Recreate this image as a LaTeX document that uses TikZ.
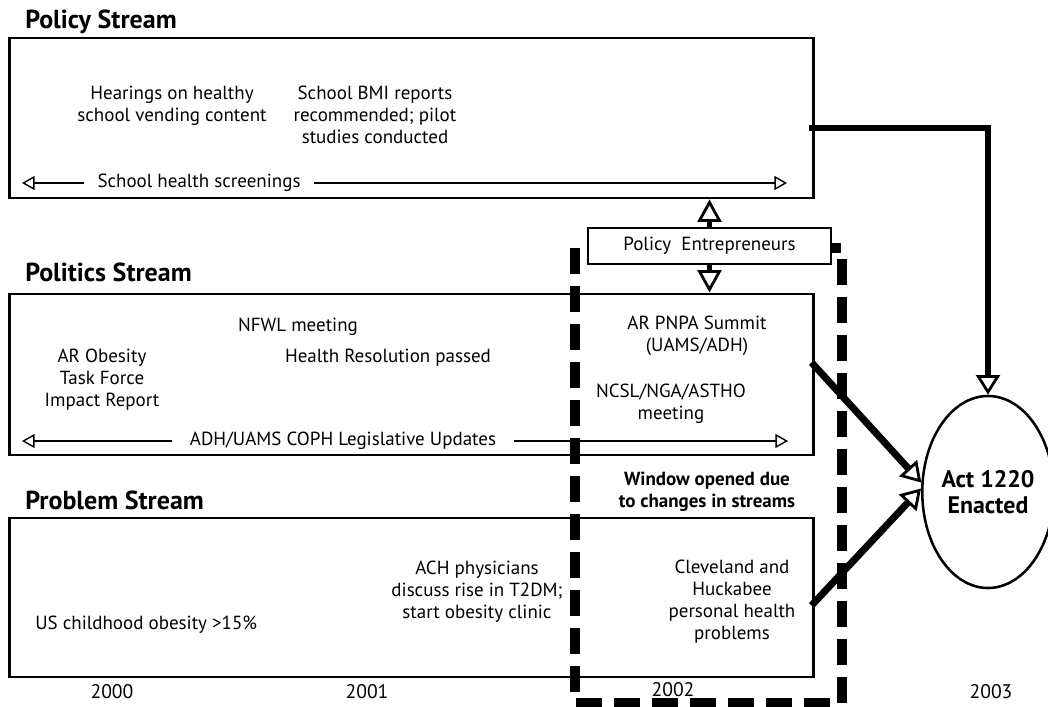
\documentclass[tikz,border=0pt]{standalone}
\usepackage{fontspec}
\setmainfont{PT Sans}
\usetikzlibrary{arrows.meta,shapes.geometric}
\tikzset{
    stream-box/.style = {draw, line width=2pt, rectangle, minimum width=20.075cm, inner sep=0pt},
    stream-title/.style = {anchor=west, inner sep=0pt, font=\fontsize{18.5}{22}\selectfont\bfseries},
    event-text/.style = {align=center, inner sep=0pt, font=\fontsize{13.5}{15.6}\selectfont},
    year-label/.style = {inner sep=0pt, font=\fontsize{14}{16}\selectfont},
    span-label/.style = {event-text, fill=white, inner ysep=2pt},
    thin-arrow/.style = {line width=1pt, -{Triangle[open, length=9pt, width=10pt]}},
    pe-arrow/.style = {line width=4pt, -{Triangle[open, length=16pt, width=17pt, line width=2pt]}},
    thick-arrow/.style = {line width=5pt, -{Triangle[open, length=14pt, width=17pt, line width=2pt]}},
    pe-box/.style = {draw, line width=1.5pt, fill=white, minimum width=6.075cm, minimum height=0.9cm, event-text},
    window-dash/.style = {line width=7pt, dash pattern=on 0.65cm off 0.3cm},
    act-ellipse/.style = {draw, ellipse, line width=1.8pt, minimum width=3.25cm, minimum height=4.8cm, inner sep=0pt, align=center, font=\fontsize{17}{18}\selectfont\bfseries},
}

\begin{document}
\begin{tikzpicture}[x=0.025cm, y=-0.025cm]
\useasboundingbox (0,0) rectangle (1048,707);

% policy stream
\node[stream-title] (policy-title) at (25,22) {Policy Stream};
\node[stream-box, minimum height=4cm] (policy) at (411.5,118) {};
\node[event-text] (hearings) at (172,106) {Hearings on healthy\\school vending content};
\node[event-text] (bmi) at (375,115) {School BMI reports\\recommended; pilot\\studies conducted};
\node[span-label, inner xsep=0.33cm] (screenings) at (199,183) {School health screenings};
\coordinate (screenings-l) at (22,183);
\coordinate (screenings-r) at (787,183);
\draw[thin-arrow] (screenings.west) -- (screenings-l);
\draw[thin-arrow] (screenings.east) -- (screenings-r);

% politics stream
\node[stream-title] (politics-title) at (25,272) {Politics Stream};
\node[stream-box, minimum height=4.025cm] (politics) at (411.5,374.5) {};
\node[event-text] (nfwl) at (298,327) {NFWL meeting};
\node[event-text] (task-force) at (102,380) {AR Obesity\\Task Force\\Impact Report};
\node[event-text] (resolution) at (388,358) {Health Resolution passed};
\node[event-text] (summit) at (697,336) {AR PNPA Summit\\(UAMS/ADH)};
\node[event-text] (ncsl) at (671,404) {NCSL/NGA/ASTHO\\meeting};
\node[span-label, inner xsep=0.45cm] (updates) at (343,441) {ADH/UAMS COPH Legislative Updates};
\coordinate (updates-l) at (22,441);
\coordinate (updates-r) at (788,441);
\draw[thin-arrow] (updates.west) -- (updates-l);
\draw[thin-arrow] (updates.east) -- (updates-r);

% problem stream
\node[stream-title] (problem-title) at (25,500) {Problem Stream};
\node[stream-box, minimum height=3.975cm] (problem) at (411.5,597.5) {};
\node[event-text] (ach) at (477,592) {ACH physicians\\discuss rise in T2DM;\\start obesity clinic};
\node[event-text] (cleveland) at (732,602) {Cleveland and\\Huckabee\\personal health\\problems};
\node[event-text, anchor=west] (us-obesity) at (35,625) {US childhood obesity >15\%};

% years
\node[year-label] (y2000) at (112,692) {2000};
\node[year-label] (y2001) at (367,692) {2001};
\node[year-label] (y2002) at (673,690) {2002};
\node[year-label] (y2003) at (991,692) {2003};

% window of opportunity
\draw[window-dash] (575,248) rectangle (842,703);
\node[event-text, font=\fontsize{13.5}{15.6}\selectfont\bfseries] (window) at (707,492) {Window opened due\\to changes in streams};

% policy entrepreneurs
\node[pe-box] (pe) at (709.5,246) {Policy\ \ Entrepreneurs};
\draw[pe-arrow] (pe.north) -- (pe.north |- policy.south);
\draw[pe-arrow] (pe.south) -- (pe.south |- politics.north);

% enactment
\node[act-ellipse] (act) at (988,492) {Act 1220\\Enacted};
\draw[thick-arrow, line width=4.5pt] ([shift={(-6,10)}]policy.east) -| (act.north);
\draw[thick-arrow] ([shift={(-3,-12)}]politics.east) -- (act.172);
\draw[thick-arrow] ([shift={(-3,8)}]problem.east) -- (act.177);
\end{tikzpicture}
\end{document}
